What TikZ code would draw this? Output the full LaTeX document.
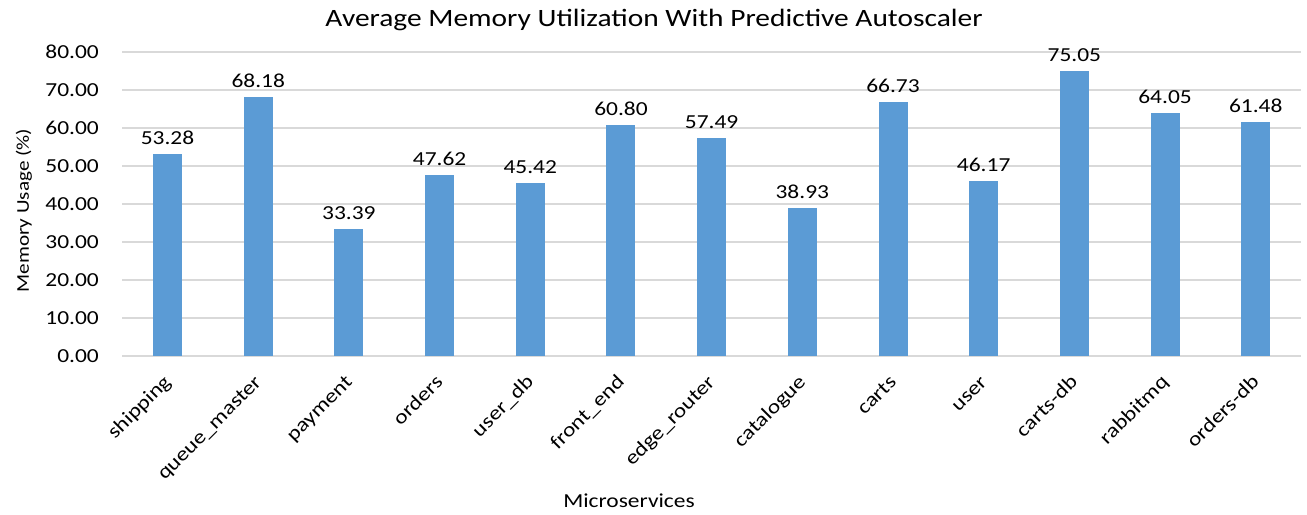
\documentclass[tikz,border=0pt]{standalone}
\usepackage{fontspec}
\setmainfont{Carlito}[FakeStretch=1.18]
\usetikzlibrary{positioning}
\definecolor{barblue}{HTML}{5B9BD5}
\definecolor{gridgray}{HTML}{D9D9D9}

\begin{document}
\begin{tikzpicture}[x=0.02cm, y=0.02cm,
    ticklabel/.style={font=\fontsize{11.3}{13}\selectfont, inner sep=0pt, anchor=east},
    vallabel/.style={font=\fontsize{11.3}{13}\selectfont, inner sep=0pt, anchor=base},
    catlabel/.style={font=\fontsize{11.3}{13}\selectfont, inner sep=0pt, anchor=base east, rotate=45}]
  \useasboundingbox (0,0) rectangle (1307,514);
  % title and axis titles
  \node[font=\fontsize{14.2}{16}\selectfont, anchor=base] (title) at (654,487) {Average Memory Utilization With Predictive Autoscaler};
  \node[font=\fontsize{10.2}{12}\selectfont, anchor=base, rotate=90] (ytitle) at (29,303.5) {Memory Usage (\%)};
  \node[font=\fontsize{11.3}{13}\selectfont, anchor=base] (xtitle) at (629,7) {Microservices};
  \begin{scope}[shift={(122.2,158)}, x=1.814cm, y=0.076cm]
    \foreach \v in {0,10,...,80} {
      \draw[gridgray, line width=0.7pt] (0,\v) -- (13,\v);
      \node[ticklabel] (tick\v) at (-0.254,\v) {\v.00};
    }
    \foreach \i/\name/\val in {1/shipping/53.28, 2/queue\_master/68.18, 3/payment/33.39, 4/orders/47.62,
        5/user\_db/45.42, 6/front\_end/60.80, 7/edge\_router/57.49, 8/catalogue/38.93, 9/carts/66.73,
        10/user/46.17, 11/carts-db/75.05, 12/rabbitmq/64.05, 13/orders-db/61.48} {
      \fill[barblue] (\i-0.66,0) rectangle (\i-0.34,\val);
      \node[vallabel] (val\i) at ([yshift=0.19cm]\i-0.5,\val) {\val};
      \node[catlabel] (cat\i) at ([xshift=0.09cm, yshift=-0.54cm]\i-0.5,0) {\name};
    }
  \end{scope}
\end{tikzpicture}
\end{document}
